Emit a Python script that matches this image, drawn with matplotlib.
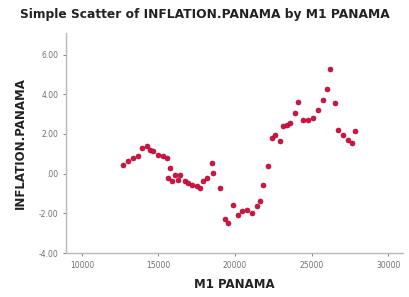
import matplotlib
matplotlib.use("Agg")
import matplotlib.pyplot as plt
from matplotlib.ticker import FuncFormatter

# Data
m1_panama = [12712, 13038, 13364, 13690, 13911, 14237, 14452, 14668, 14994, 15319,
             15541, 15756, 15645, 15867, 16082, 16408, 16297, 16734, 16949, 17171,
             17497, 17712, 17927, 18149, 18475, 18579, 19016, 19342, 19557, 19883,
             20209, 20431, 20756, 21082, 21408, 21624, 21839, 22165, 22386, 22601,
             22927, 23142, 23364, 23579, 23905, 24120, 24446, 24772, 25098, 25424,
             25750, 25971, 26186, 26512, 26728, 27054, 27380, 27602, 27817]
inflation = [0.45, 0.62, 0.79, 0.87, 1.29, 1.37, 1.21, 1.12, 0.95, 0.87,
             0.79, 0.29, -0.22, -0.39, -0.05, -0.05, -0.30, -0.39, -0.47, -0.55,
             -0.64, -0.72, -0.39, -0.22, 0.54, 0.04, -0.72, -2.31, -2.48, -1.56,
             -2.06, -1.89, -1.81, -1.97, -1.64, -1.39, -0.55, 0.37, 1.79, 1.96,
             1.62, 2.38, 2.46, 2.55, 3.05, 3.63, 2.71, 2.71, 2.80, 3.22,
             3.72, 4.26, 5.26, 3.55, 2.21, 1.96, 1.71, 1.54, 2.13]

x_ticks = [10000, 15000, 20000, 25000, 30000]
y_ticks = [-4, -2, 0, 2, 4, 6]

RED = "#d4143f"
SPINE = "#b8b8b8"
TICK = "#707070"
TEXT = "#222222"

fig = plt.figure(figsize=(4.09, 2.97), dpi=100)
ax = fig.add_axes([0.161, 0.148, 0.824, 0.742])

ax.scatter(m1_panama, inflation, s=13, color=RED, edgecolors="#a00030",
           linewidths=0.4, zorder=3)

ax.set_xlim(8957, 30950)
ax.set_ylim(-4, 7.1)
ax.set_xticks(x_ticks)
ax.set_yticks(y_ticks)


def fmt_y(v, pos):
    s = f"{v:.2f}"
    return ".00" if v == 0 else s


ax.yaxis.set_major_formatter(FuncFormatter(fmt_y))
ax.tick_params(axis="both", labelsize=5.5, colors=TICK, length=2, width=0.6)

for side in ["top", "right"]:
    ax.spines[side].set_visible(False)
for side in ["left", "bottom"]:
    ax.spines[side].set_color(SPINE)
    ax.spines[side].set_linewidth(1.0)

ax.set_xlabel("M1 PANAMA", fontsize=8.5, fontweight="bold", color=TEXT, labelpad=6)
ax.set_ylabel("INFLATION.PANAMA", fontsize=8.5, fontweight="bold", color=TEXT, labelpad=8)
fig.text(0.5, 0.95, "Simple Scatter of INFLATION.PANAMA by M1 PANAMA",
         ha="center", va="center", fontsize=8.8, fontweight="bold", color=TEXT)

fig.savefig("out.png", dpi=100, facecolor="white")
